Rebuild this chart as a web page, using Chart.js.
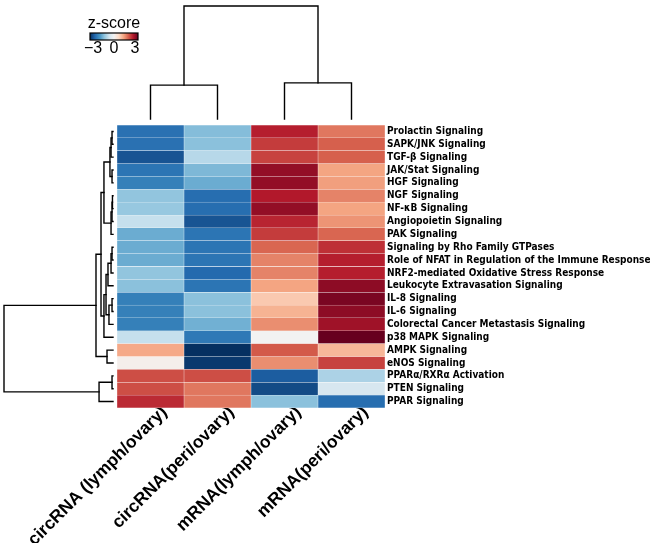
<!DOCTYPE html>
<html>
<head>
<meta charset="utf-8">
<script src="https://cdn.jsdelivr.net/npm/chart.js@4/dist/chart.umd.min.js"></script>
<style>
  body { margin: 0; background: #fff; }
</style>
</head>
<body>
<canvas id="heat" width="650" height="543"></canvas>
<script>
// pathways (rows, top to bottom) and samples (columns, left to right)
const rows = [
  'Prolactin Signaling', 'SAPK/JNK Signaling', 'TGF-β Signaling', 'JAK/Stat Signaling',
  'HGF Signaling', 'NGF Signaling', 'NF-κB Signaling', 'Angiopoietin Signaling',
  'PAK Signaling', 'Signaling by Rho Family GTPases',
  'Role of NFAT in Regulation of the Immune Response',
  'NRF2-mediated Oxidative Stress Response', 'Leukocyte Extravasation Signaling',
  'IL-8 Signaling', 'IL-6 Signaling', 'Colorectal Cancer Metastasis Signaling',
  'p38 MAPK Signaling', 'AMPK Signaling', 'eNOS Signaling',
  'PPARα/RXRα Activation', 'PTEN Signaling', 'PPAR Signaling'
];
const cols = ['circRNA (lymph/ovary)', 'circRNA(peri/ovary)', 'mRNA(lymph/ovary)', 'mRNA(peri/ovary)'];

// z-scores, one array per column
const circLymph = [-2.25, -2.25, -2.6, -2.2, -2.05, -1.2, -1.15, -0.7, -1.5, -1.5, -1.5,
  -1.2, -1.25, -2.05, -2.05, -2.05, -0.7, 1.15, 0.1, 1.95, 1.95, 2.25];
const circPeri = [-1.3, -1.25, -0.85, -1.35, -1.5, -2.3, -2.3, -2.6, -2.2, -2.2, -2.2,
  -2.35, -2.2, -1.25, -1.25, -1.45, -2.15, -3.0, -2.9, 1.95, 1.6, 1.6];
const mrnaLymph = [2.35, 2.1, 2.05, 2.65, 2.65, 2.4, 2.65, 2.3, 2.1, 1.75, 1.5,
  1.5, 1.2, 0.8, 1.05, 1.4, 0.0, 1.85, 1.4, -2.5, -2.7, -1.25];
const mrnaPeri = [1.6, 1.8, 1.8, 1.2, 1.25, 1.5, 1.2, 1.35, 1.75, 2.2, 2.35,
  2.35, 2.7, 2.85, 2.7, 2.55, 3.0, 1.0, 2.05, -0.95, -0.5, -2.3];
const series = [circLymph, circPeri, mrnaLymph, mrnaPeri];

// clustering trees: [left, right, height], leaves are row/column indices
const rowTree = [
  [
    [
      [
        [[[0, 1, 0.09], 2, 0.18], [3, 4, 0.09], 0.28],
        [[[5, 6, 0.05], 7, 0.09], 8, 0.18],
        0.83
      ],
      [
        [[[[9, 10, 0.09], 11, 0.18], 12, 0.46], [[13, 14, 0.09], 15, 0.37], 0.64],
        16,
        0.83
      ],
      1.1
    ],
    [17, 18, 0.55],
    1.56
  ],
  [[19, 20, 0.09], 21, 1.28],
  10
];
const colTree = [[0, 1, 3.0], [2, 3, 3.2], 10];

const zTicks = [-3, 0, 3];

// RdBu palette from -3 to 3
const palette = ['#053061', '#2166ac', '#4393c3', '#92c5de', '#d1e5f0', '#f2f2f2',
  '#fddbc7', '#f4a582', '#d6604d', '#b2182b', '#67001f'];

function hex(c) {
  return [1, 3, 5].map(i => parseInt(c.slice(i, i + 2), 16));
}

function zColor(v) {
  const t = (Math.max(-3, Math.min(3, v)) + 3) / 6 * (palette.length - 1);
  const i = Math.min(Math.floor(t), palette.length - 2);
  const f = t - i;
  const a = hex(palette[i]), b = hex(palette[i + 1]);
  const rgb = a.map((x, k) => Math.round(x + (b[k] - x) * f));
  return `rgb(${rgb.join(',')})`;
}

// draws a tree, returns {p, h} of the node
function drawTree(ctx, node, leafPos, hPos, vertical) {
  if (typeof node === 'number') return { p: leafPos(node), h: 0 };
  const a = drawTree(ctx, node[0], leafPos, hPos, vertical);
  const b = drawTree(ctx, node[1], leafPos, hPos, vertical);
  const h = node[2];
  const pts = [[a.p, hPos(a.h)], [a.p, hPos(h)], [b.p, hPos(h)], [b.p, hPos(b.h)]];
  ctx.beginPath();
  pts.forEach(([p, q], k) => {
    const x = vertical ? p : q;
    const y = vertical ? q : p;
    if (k === 0) ctx.moveTo(x, y); else ctx.lineTo(x, y);
  });
  ctx.stroke();
  return { p: (a.p + b.p) / 2, h };
}

const extras = {
  id: 'extras',
  afterDraw(chart) {
    const ctx = chart.ctx;
    const area = chart.chartArea;
    const xs = chart.scales.x, ys = chart.scales.y;
    ctx.save();
    ctx.strokeStyle = '#000';
    ctx.lineWidth = 1.4;
    ctx.lineCap = 'square';

    // column dendrogram
    const colBase = area.top - 6;
    const colK = (colBase - 6) / colTree[2];
    drawTree(ctx, colTree, i => xs.getPixelForValue(i + 0.5), h => colBase - h * colK, true);

    // row dendrogram
    const rowBase = area.left - 4;
    const rowK = (rowBase - 4) / rowTree[2];
    drawTree(ctx, rowTree, i => ys.getPixelForValue(i), h => rowBase - h * rowK, false);

    // colour key
    const kx = 90, ky = 33, kw = 48, kh = 7;
    const grad = ctx.createLinearGradient(kx, 0, kx + kw, 0);
    palette.forEach((c, i) => grad.addColorStop(i / (palette.length - 1), c));
    ctx.fillStyle = grad;
    ctx.fillRect(kx, ky, kw, kh);
    ctx.lineWidth = 1.2;
    ctx.strokeRect(kx, ky, kw, kh);
    ctx.fillStyle = '#000';
    ctx.font = '16px "Liberation Sans", Arial, sans-serif';
    ctx.textAlign = 'center';
    ctx.textBaseline = 'alphabetic';
    ctx.fillText('z-score', kx + kw / 2, 28);
    zTicks.forEach(t => {
      const x = kx + 3 + (t + 3) / 6 * (kw - 6);
      ctx.fillText(t < 0 ? '\u2212' + Math.abs(t) : String(t), x, 53);
    });
    ctx.restore();
  }
};

new Chart(document.getElementById('heat').getContext('2d'), {
  type: 'bar',
  data: {
    labels: rows,
    datasets: cols.map((c, j) => ({
      label: c,
      data: rows.map(() => 1),
      backgroundColor: series[j].map(zColor),
      borderColor: 'rgba(255,255,255,0.25)',
      borderWidth: 0.5,
      borderSkipped: false,
      barPercentage: 1,
      categoryPercentage: 1,
      xAxisID: 'x',
      yAxisID: 'y'
    }))
  },
  options: {
    indexAxis: 'y',
    responsive: false,
    animation: false,
    layout: { padding: { left: 117, top: 125, right: 0, bottom: 0 } },
    plugins: { legend: { display: false }, tooltip: { enabled: false } },
    scales: {
      x: { type: 'linear', stacked: true, min: 0, max: cols.length, display: false },
      xl: {
        type: 'category',
        labels: cols,
        position: 'bottom',
        offset: true,
        grid: { display: false, drawTicks: false },
        border: { display: false },
        afterFit: s => { s.height = 135; },
        ticks: {
          autoSkip: false,
          minRotation: 45,
          maxRotation: 45,
          padding: -6,
          labelOffset: 14,
          color: '#000',
          font: { family: '"Liberation Sans", Arial, sans-serif', size: 17.5, weight: 'bold' }
        }
      },
      y: {
        type: 'category',
        stacked: true,
        position: 'right',
        grid: { display: false, drawTicks: false },
        border: { display: false },
        afterFit: s => { s.width = 265; },
        ticks: {
          autoSkip: false,
          padding: 2,
          color: '#000',
          font: { family: '"Liberation Sans Narrow", "DejaVu Sans Condensed", sans-serif', size: 10, weight: 'bold' }
        }
      }
    }
  },
  plugins: [extras]
});
</script>
</body>
</html>
